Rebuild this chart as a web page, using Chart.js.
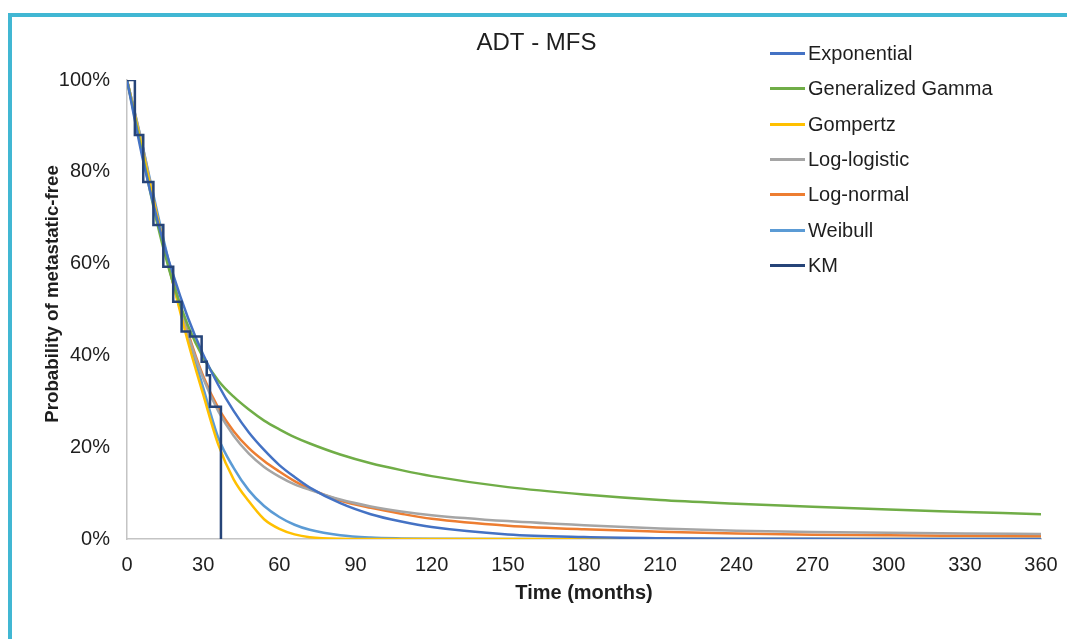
<!DOCTYPE html>
<html>
<head>
<meta charset="utf-8">
<script src="https://cdn.jsdelivr.net/npm/chart.js@4.4.1/dist/chart.umd.min.js"></script>
<style>
  html, body { margin: 0; padding: 0; background: #fff; overflow: hidden; }
  #wrap { position: relative; width: 1067px; height: 639px; }
  #frame { position: absolute; left: 8px; top: 13px; width: 1100px; height: 700px;
           border: 4px solid #41B7D3; pointer-events: none; box-sizing: border-box; }
  #legend { position: absolute; left: 770px; top: 36px; font-family: "Liberation Sans", Arial, sans-serif;
            font-size: 20px; color: #1e1e1e; }
  #legend .item { display: flex; align-items: center; height: 35.33px; }
  #legend .swatch { width: 35px; height: 3px; margin-right: 3px; }
</style>
</head>
<body>
<div id="wrap">
  <canvas id="chart" width="1067" height="639"></canvas>
  <div id="legend"></div>
  <div id="frame"></div>
</div>
<script>
// ---------------- data ----------------
const months = [0, 6, 12, 18, 24, 30, 36, 42, 48, 54, 60, 66, 72, 84, 96, 108, 120, 150, 180, 210, 240, 270, 300, 330, 360];

const exponential = [100, 83.3, 69.4, 57.9, 48.2, 40.2, 33.5, 27.9, 23.2, 19.4, 16.1, 13.5, 11.2, 7.8, 5.4, 3.8, 2.6, 1.0, 0.42, 0.17, 0.07, 0.03, 0.01, 0, 0];
const genGamma    = [100, 84, 68.5, 56, 46.5, 39.5, 34.5, 31, 28.2, 25.8, 23.9, 22.2, 20.8, 18.4, 16.5, 15, 13.7, 11.3, 9.7, 8.5, 7.7, 7.0, 6.4, 5.9, 5.4];
const gompertz    = [100, 85, 70, 56, 43, 31.5, 20.5, 13, 8.2, 4.3, 2.2, 1.0, 0.4, 0.05, 0, 0, 0, 0, 0, 0, 0, 0, 0, 0, 0];
const logLogistic = [100, 86, 70, 56, 44.5, 35, 27.8, 22.5, 18.6, 15.7, 13.6, 11.9, 10.7, 8.6, 7.1, 6.0, 5.2, 3.9, 3.0, 2.3, 1.8, 1.5, 1.35, 1.2, 1.1];
const logNormal   = [100, 85.5, 70, 56.5, 45, 35.5, 28.5, 23.5, 19.8, 17.0, 14.7, 12.6, 10.9, 8.4, 6.8, 5.5, 4.4, 2.9, 2.1, 1.6, 1.2, 0.95, 0.8, 0.7, 0.6];
const weibull     = [100, 86, 71, 57, 44.5, 33, 22, 15.5, 10.6, 7.2, 4.8, 3.1, 2.0, 0.8, 0.3, 0.12, 0.05, 0, 0, 0, 0, 0, 0, 0, 0];

// Kaplan-Meier steps
const kmMonths = [0, 3.1, 6.4, 10.4, 14.3, 18.2, 21.5, 24.8, 29.4, 31.4, 32.7, 37.0];
const kmSurv   = [100, 88, 77.8, 68.4, 59.3, 51.7, 45.2, 44.1, 38.6, 35.7, 28.8, 0];

const xTicks = [0, 30, 60, 90, 120, 150, 180, 210, 240, 270, 300, 330, 360];

// ---------------- build ----------------
const pts = (xs, ys) => xs.map((x, i) => ({ x: x, y: ys[i] }));

function curve(label, values, color) {
  return {
    label: label,
    data: pts(months, values),
    borderColor: color,
    backgroundColor: color,
    borderWidth: 2.5,
    pointRadius: 0,
    cubicInterpolationMode: "monotone",
    order: 1,
  };
}

const datasets = [
  curve("Exponential", exponential, "#4472C4"),
  curve("Generalized Gamma", genGamma, "#70AD47"),
  curve("Gompertz", gompertz, "#FFC000"),
  curve("Log-logistic", logLogistic, "#A5A5A5"),
  curve("Log-normal", logNormal, "#ED7D31"),
  curve("Weibull", weibull, "#5B9BD5"),
  {
    label: "KM",
    data: pts(kmMonths, kmSurv),
    borderColor: "#264478",
    backgroundColor: "#264478",
    borderWidth: 2.5,
    pointRadius: 0,
    stepped: "before",
    order: 0,
  },
];

const FONT = "'Liberation Sans', Arial, sans-serif";
const TXT = "#1e1e1e";

const config = {
  type: "line",
  data: { datasets },
  options: {
    responsive: false,
    animation: false,
    layout: { padding: { left: 32, right: 26, top: 0, bottom: 0 } },
    plugins: {
      legend: { display: false },
      tooltip: { enabled: false },
      title: {
        display: true,
        text: "ADT - MFS",
        color: TXT,
        font: { family: FONT, size: 24, weight: "normal" },
        padding: { top: 28.6, bottom: 22.6 },
      },
    },
    scales: {
      x: {
        type: "linear",
        min: 0,
        max: 360,
        afterBuildTicks: (s) => { s.ticks = xTicks.map((v) => ({ value: v })); },
        afterFit: (s) => {
          s.height = 100;
          s.paddingRight = 0; // the "360" label can hang into the right padding
        },
        grid: { display: false, drawTicks: false },
        border: { display: true, color: "#C4C4C4", width: 1.5 },
        ticks: { color: TXT, padding: 14, font: { family: FONT, size: 20 } },
        title: {
          display: true,
          text: "Time (months)",
          color: TXT,
          font: { family: FONT, size: 20, weight: "bold" },
          padding: { top: 0, bottom: 34 },
        },
      },
      y: {
        min: 0,
        max: 100,
        afterFit: (s) => { s.width = 95; },
        grid: { display: false, drawTicks: false },
        border: { display: true, color: "#C4C4C4", width: 1.5 },
        ticks: {
          stepSize: 20,
          color: TXT,
          padding: 17,
          font: { family: FONT, size: 20 },
          callback: (v) => v + "%",
        },
        title: {
          display: true,
          // leading spaces nudge it up a bit, like the excel original
          text: "      Probability of metastatic-free",
          color: TXT,
          font: { family: FONT, size: 18.7, weight: "bold" },
          padding: { top: 9.3, bottom: 0 },
        },
      },
    },
  },
};

const myChart = new Chart(document.getElementById("chart"), config);

// html legend, same order as the datasets
const legendEl = document.getElementById("legend");
myChart.data.datasets.forEach((ds) => {
  const item = document.createElement("div");
  item.className = "item";
  const sw = document.createElement("span");
  sw.className = "swatch";
  sw.style.background = ds.borderColor;
  const txt = document.createElement("span");
  txt.textContent = ds.label;
  item.appendChild(sw);
  item.appendChild(txt);
  legendEl.appendChild(item);
});
</script>
</body>
</html>
